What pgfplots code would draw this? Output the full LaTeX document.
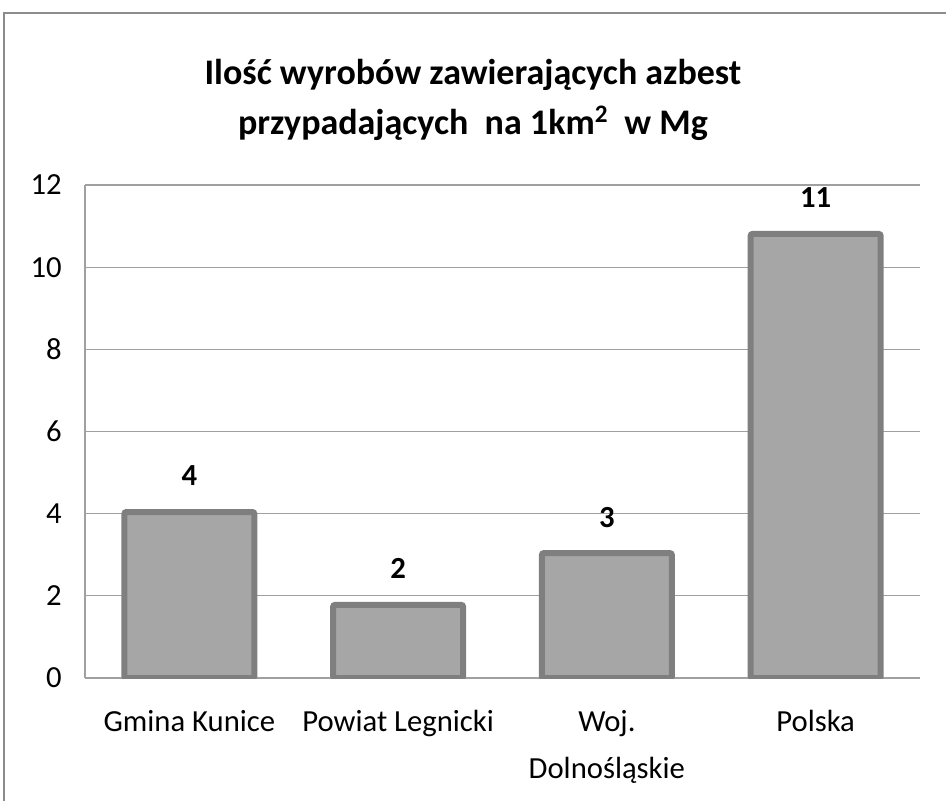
\documentclass[border=0pt]{standalone}
\usepackage{pgfplots}
\pgfplotsset{compat=1.18}
\usepackage{fontspec}
\setmainfont{Carlito}
\definecolor{barfill}{RGB}{166,166,166}
\definecolor{barline}{RGB}{127,127,127}
\definecolor{gridc}{RGB}{160,160,160}
\definecolor{framec}{RGB}{140,140,140}
\begin{document}
\begin{tikzpicture}
\useasboundingbox (0,0) rectangle (709.5pt,600.75pt);
\draw[framec,line width=1.2pt] (3pt,0) -- (3pt,591pt) -- (709.5pt,591pt);
\node[font=\fontsize{27}{37}\selectfont\bfseries,align=center] at (354.75pt,525.75pt) {Ilość wyrobów zawierających azbest\\przypadających \ na 1km\textsuperscript{2} \ w Mg};
\begin{axis}[
  at={(63.75pt,92.25pt)}, anchor=south west,
  scale only axis, width=626.25pt, height=369.75pt,
  xmin=-0.5, xmax=3.5, ymin=0, ymax=12,
  ytick={0,2,...,12},
  xtick={0,1,2,3},
  xticklabels={\strut Gmina Kunice,\strut Powiat Legnicki,{\strut Woj.\\Dolnośląskie},\strut Polska},
  axis x line*=bottom, axis y line*=left,
  axis line style={gridc,line width=1pt},
  ymajorgrids, grid style={gridc,line width=0.9pt},
  major tick length=0pt,
  tick style={draw=none},
  /pgf/number format/assume math mode=true,
  ticklabel style={font=\fontsize{23}{35}\selectfont, text=black},
  yticklabel style={xshift=-14pt},
  xticklabel style={align=center, anchor=north, yshift=-12pt},
  nodes near coords={\pgfmathprintnumber[fixed,precision=0]{\pgfplotspointmeta}},
  every node near coord/.append style={font=\fontsize{23}{25}\selectfont\bfseries, anchor=center, yshift=27pt, text=black},
  /pgf/bar width=97.5pt,
]
\addplot[ybar, fill=barfill, draw=barline, line width=4.5pt, rounded corners=1.5pt] coordinates {(0,4.04) (1,1.78) (2,3.04) (3,10.81)};
\end{axis}
\end{tikzpicture}
\end{document}
